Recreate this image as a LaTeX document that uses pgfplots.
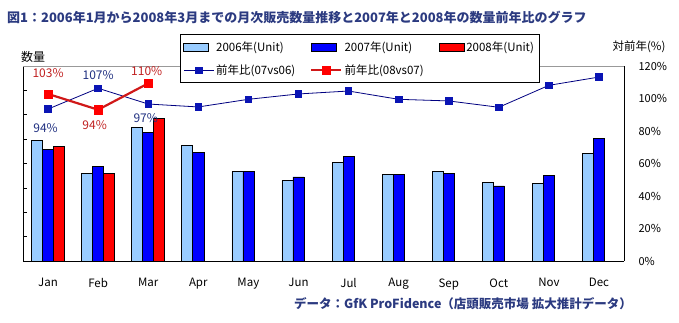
\documentclass[border=0pt]{standalone}
\usepackage{fontspec}
\setmainfont{Noto Sans CJK JP}
\usepackage{pgfplots}
\pgfplotsset{compat=1.18}
\definecolor{c06}{HTML}{99CCFF}
\definecolor{c07}{HTML}{0000FF}
\definecolor{c08}{HTML}{FF0000}
\definecolor{navyl}{HTML}{000080}
\definecolor{mk}{HTML}{0A14B4}
\definecolor{redl}{HTML}{D01818}
\definecolor{ttl}{HTML}{2B3A80}
\definecolor{lblb}{HTML}{1F2F80}
\definecolor{lblr}{HTML}{C02020}
\pgfplotsset{
  barleg/.style={legend image code/.code={\draw[##1] (0pt,-4pt) rectangle (25pt,4pt);}},
  lineleg/.style={legend image code/.code={\draw[##1] (0pt,0pt) -- (30pt,0pt); \draw[##1] plot coordinates {(15pt,0pt)};}},
}
\begin{document}
\begin{tikzpicture}[x=1pt,y=1pt]
\useasboundingbox (0,0) rectangle (679,322);
\node[anchor=west, font=\bfseries\fontsize{13}{14}\selectfont, text=ttl, inner sep=0] at (7,305) {図1：2006年1月から2008年3月までの月次販売数量推移と2007年と2008年の数量前年比のグラフ};
\node[font=\fontsize{12}{14}\selectfont] at (33,265) {数量};
\node[font=\fontsize{11.5}{14}\selectfont] at (639,275) {対前年(\%)};
\node[anchor=east, font=\bfseries\fontsize{12.5}{14}\selectfont, text=ttl, inner sep=0] at (632,18) {データ：GfK ProFidence（店頭販売市場 拡大推計データ）};

\begin{axis}[
  at={(23pt,61pt)}, anchor=south west, scale only axis,
  width=601pt, height=195pt,
  xmin=-0.5, xmax=11.5, ymin=0, ymax=8,
  axis x line*=bottom, axis y line*=left,
  axis line style={black, line width=0.8pt},
  xtick={0,...,11},
  xticklabels={Jan,Feb,Mar,Apr,May,Jun,Jul,Aug,Sep,Oct,Nov,Dec},
  major x tick style={draw=none},
  extra x ticks={0.5,1.5,...,10.5},
  extra x tick labels={},
  extra x tick style={major tick length=4pt, tick align=inside, tick style={black, line width=0.6pt}},
  xticklabel style={font=\fontsize{11.5}{13}\selectfont, yshift=-14pt},
  ytick={1,...,7}, yticklabels={},
  tick align=inside, major tick length=4pt,
  ytick style={black, line width=0.6pt},
  clip=false,
]
\addplot[ybar, bar width=0.22, bar shift=-0.22, fill=c06, draw=black, line width=0.6pt]
  coordinates {(0,4.96) (1,3.60) (2,5.48) (3,4.75) (4,3.68) (5,3.31) (6,4.03) (7,3.56) (8,3.68) (9,3.23) (10,3.19) (11,4.42)};
\addplot[ybar, bar width=0.22, bar shift=0, fill=c07, draw=black, line width=0.6pt]
  coordinates {(0,4.59) (1,3.88) (2,5.28) (3,4.45) (4,3.68) (5,3.45) (6,4.30) (7,3.56) (8,3.60) (9,3.08) (10,3.52) (11,5.03)};
\addplot[ybar, bar width=0.22, bar shift=0.22, fill=c08, draw=black, line width=0.6pt]
  coordinates {(0,4.70) (1,3.60) (2,5.85)};
\draw[gray!80, line width=0.8pt] (rel axis cs:0,1) -- (rel axis cs:1,1);
\end{axis}

\begin{axis}[
  at={(23pt,61pt)}, anchor=south west, scale only axis,
  width=601pt, height=195pt,
  xmin=-0.5, xmax=11.5, ymin=0, ymax=120,
  axis x line=none, axis y line*=right,
  axis line style={black, line width=0.8pt},
  ytick={0,20,...,120},
  yticklabels={0\%,20\%,40\%,60\%,80\%,100\%,120\%},
  major tick length=0pt,
  yticklabel style={font=\fontsize{11}{13}\selectfont, xshift=11pt},
  clip=false,
  legend columns=3,
  legend style={at={(0.2612,1.164)}, anchor=north west, draw=black, line width=0.8pt,
    fill=white, font=\fontsize{11.5}{13}\selectfont, inner xsep=3pt, inner ysep=5pt,
    /tikz/every even column/.append style={column sep=13pt},
    row sep=8pt},
  legend cell align=left,
]
\addlegendimage{barleg, fill=c06, draw=black, line width=0.6pt}
\addlegendimage{barleg, fill=c07, draw=black, line width=0.6pt}
\addlegendimage{barleg, fill=c08, draw=black, line width=0.6pt}
\addplot[navyl, line width=0.8pt, mark=square*, mark size=3.3pt, mark options={fill=mk, draw=mk}, lineleg]
  coordinates {(0,93.5) (1,106.3) (2,96.6) (3,94.8) (4,99.5) (5,102.8) (6,104.6) (7,99.5) (8,98.5) (9,94.6) (10,108.1) (11,113.2)};
\addplot[redl, line width=2.2pt, mark=square*, mark size=4.2pt, mark options={fill=c08, draw=c08, line width=0.5pt}, lineleg]
  coordinates {(0,102.8) (1,93.1) (2,109.3)};
\legend{2006年(Unit),2007年(Unit),2008年(Unit),前年比(07vs06),前年比(08vs07)}
\node[text=lblr, font=\fontsize{12}{14}\selectfont] at (axis cs:0,115.7) {103\%};
\node[text=lblb, font=\fontsize{12}{14}\selectfont] at (axis cs:-0.05,81.8) {94\%};
\node[text=lblb, font=\fontsize{12}{14}\selectfont] at (axis cs:1,114.5) {107\%};
\node[text=lblr, font=\fontsize{12}{14}\selectfont] at (axis cs:0.93,83.7) {94\%};
\node[text=lblr, font=\fontsize{12}{14}\selectfont] at (axis cs:1.97,117) {110\%};
\node[text=lblb, font=\fontsize{12}{14}\selectfont] at (axis cs:1.95,88) {97\%};
\end{axis}
\end{tikzpicture}
\end{document}
